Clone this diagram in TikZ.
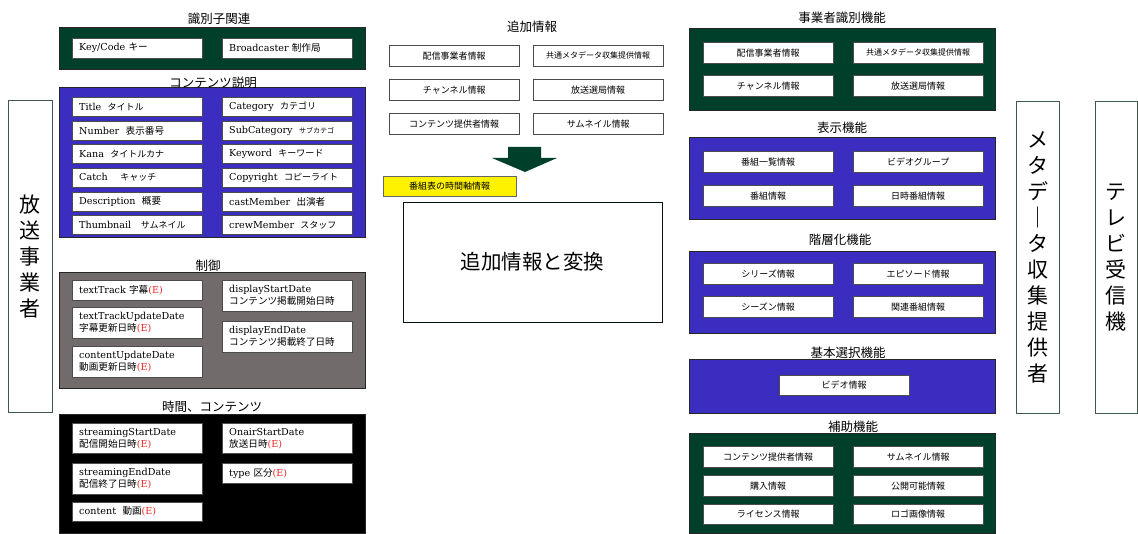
\documentclass[tikz,border=0pt]{standalone}
\usepackage{fontspec}
\setmainfont{Noto Sans CJK JP}
\newfontfamily\lat{DejaVu Serif}
\usepackage{tikz}
\definecolor{green1}{HTML}{00402B}
\definecolor{blue1}{HTML}{3A2DBF}
\definecolor{gray1}{HTML}{716B6B}
\definecolor{red1}{HTML}{F02828}
\definecolor{edge1}{HTML}{3F5A4C}
\newcommand{\ee}{{\lat\color{red1}(E)}}

\begin{document}
\begin{tikzpicture}[
    x=1pt, y=-1pt,
    panel/.style={draw=black!85, anchor=north west, inner sep=0pt,
                  minimum width=306pt},
    ttl/.style={font=\fontsize{12.5}{14}\selectfont, inner sep=0pt},
    lbox/.style={draw=black!70, fill=white, anchor=north west,
                 text width=116pt, inner xsep=7pt, inner ysep=0pt,
                 minimum height=19pt, align=left,
                 font=\fontsize{9.6}{12}\selectfont},
    rbox/.style={draw=black!70, fill=white, anchor=north west,
                 minimum width=130pt, minimum height=21pt, inner sep=0pt,
                 font=\fontsize{9}{11}\selectfont},
    side/.style={draw=edge1, anchor=north west, minimum height=312pt,
                 inner sep=0pt, align=center,
                 font=\fontsize{21}{26}\selectfont},
]
\useasboundingbox (0,0) rectangle (1138,534);

% Side columns
\node[side, minimum width=44pt] (bc) at (8,100) {放\\送\\事\\業\\者};
\node[side, minimum width=43pt] (meta) at (1016,101)
    {メ\\タ\\デ\\｜\\タ\\収\\集\\提\\供\\者};
\node[side, minimum width=42pt] (tv) at (1095,101) {テ\\レ\\ビ\\受\\信\\機};

% Identifier panel
\node[panel, fill=green1, minimum height=42pt] (idp) at (59,27) {};
\node[ttl] (idt) at (219,19) {識別子関連};
\node[lbox, minimum height=20pt] (key) at (72,38) {{\lat Key/Code} キー};
\node[lbox, minimum height=20pt] (bcst) at (222,38) {{\lat Broadcaster} 制作局};

% Content description panel
\node[panel, fill=blue1, minimum height=150pt] (cdp) at (59,87) {};
\node[ttl] (cdt) at (213,83) {コンテンツ説明};
\node[lbox] (title) at (72,97)  {{\lat Title}\ \ {\small タイトル}};
\node[lbox] (num)   at (72,121) {{\lat Number}\ \ 表示番号};
\node[lbox] (kana)  at (72,144) {{\lat Kana}\ \ {\small タイトルカナ}};
\node[lbox] (catch) at (72,168) {{\lat Catch}\quad\ {\small キャッチ}};
\node[lbox] (desc)  at (72,192) {{\lat Description}\ \ 概要};
\node[lbox] (thumb) at (72,215) {{\lat Thumbnail}\quad {\small サムネイル}};
\node[lbox] (cat)   at (222,97)  {{\lat Category}\ \ {\small カテゴリ}};
\node[lbox] (scat)  at (222,121) {{\lat SubCategory}\ \ {\fontsize{7}{9}\selectfont サブカテゴ}};
\node[lbox] (kw)    at (222,144) {{\lat Keyword}\ \ {\small キーワード}};
\node[lbox] (copy)  at (222,168) {{\lat Copyright}\ \ {\small コピーライト}};
\node[lbox] (cast)  at (222,192) {{\lat castMember}\ \ 出演者};
\node[lbox] (crew)  at (222,215) {{\lat crewMember}\ \ {\small スタッフ}};

% Control panel
\node[panel, fill=gray1, minimum height=116pt] (ctp) at (59,272) {};
\node[ttl] (ctt) at (208,266) {制御};
\node[lbox, minimum height=20pt] (tt) at (72,280) {{\lat textTrack} 字幕\ee};
\node[lbox, minimum height=31pt] (ttu) at (72,307)
    {{\lat textTrackUpdateDate}\\字幕更新日時\ee};
\node[lbox, minimum height=31pt] (cu) at (72,346)
    {{\lat contentUpdateDate}\\動画更新日時\ee};
\node[lbox, minimum height=31pt] (ds) at (222,280)
    {{\lat displayStartDate}\\コンテンツ掲載開始日時};
\node[lbox, minimum height=31pt] (de) at (222,321)
    {{\lat displayEndDate}\\コンテンツ掲載終了日時};

% Time panel
\node[panel, fill=black, minimum height=119pt] (tmp) at (59,414) {};
\node[ttl] (tmt) at (212,407) {時間、コンテンツ};
\node[lbox, minimum height=30pt] (ss) at (72,423)
    {{\lat streamingStartDate}\\配信開始日時\ee};
\node[lbox, minimum height=31pt] (se) at (72,463)
    {{\lat streamingEndDate}\\配信終了日時\ee};
\node[lbox] (cnt) at (72,502) {{\lat content}\ \ 動画\ee};
\node[lbox, minimum height=30pt] (oa) at (222,423)
    {{\lat OnairStartDate}\\放送日時\ee};
\node[lbox, minimum height=20pt] (typ) at (222,463) {{\lat type} 区分\ee};

% Additional info
\node[ttl] (addt) at (532,27) {追加情報};
\node[rbox] (a1) at (389,45)  {配信事業者情報};
\node[rbox] (a2) at (533,45)  {\fontsize{8}{9}\selectfont 共通メタデータ収集提供情報};
\node[rbox] (a3) at (389,79)  {チャンネル情報};
\node[rbox] (a4) at (533,79)  {放送選局情報};
\node[rbox] (a5) at (389,113) {コンテンツ提供者情報};
\node[rbox] (a6) at (533,113) {サムネイル情報};

% Down arrow
\fill[green1] (508,147) -- (541,147) -- (541,158) -- (557,158) -- (525,172)
    -- (492,158) -- (508,158) -- cycle;

\node[draw=black!60, fill=yellow, anchor=north west, minimum width=133pt,
      minimum height=20pt, inner sep=0pt, font=\fontsize{9}{11}\selectfont]
    (epg) at (383,176) {番組表の時間軸情報};
\node[draw=black!70!green1, fill=white, anchor=north west, minimum width=259pt,
      minimum height=120pt, inner sep=0pt, font=\fontsize{20.5}{24}\selectfont]
    (conv) at (403,202) {追加情報と変換};

% Operator identification
\node[panel, fill=green1, minimum height=82pt] (r1) at (689,28) {};
\node[ttl] (r1t) at (842,18) {事業者識別機能};
\node[rbox] (b1) at (703,42) {配信事業者情報};
\node[rbox] (b2) at (853,42) {\fontsize{8}{9}\selectfont 共通メタデータ収集提供情報};
\node[rbox] (b3) at (703,75) {チャンネル情報};
\node[rbox] (b4) at (853,75) {放送選局情報};

% Display
\node[panel, fill=blue1, minimum height=82pt] (r2) at (689,137) {};
\node[ttl] (r2t) at (842,128) {表示機能};
\node[rbox] (c1) at (703,151) {番組一覧情報};
\node[rbox] (c2) at (853,151) {ビデオグループ};
\node[rbox] (c3) at (703,185) {番組情報};
\node[rbox] (c4) at (853,185) {日時番組情報};

% Hierarchy
\node[panel, fill=blue1, minimum height=82pt] (r3) at (689,251) {};
\node[ttl] (r3t) at (840,240) {階層化機能};
\node[rbox] (d1) at (703,263) {シリーズ情報};
\node[rbox] (d2) at (853,263) {エピソード情報};
\node[rbox] (d3) at (703,296) {シーズン情報};
\node[rbox] (d4) at (853,296) {関連番組情報};

% Basic selection
\node[panel, fill=blue1, minimum height=54pt] (r4) at (689,359) {};
\node[ttl] (r4t) at (848,353) {基本選択機能};
\node[rbox, minimum height=20pt] (e1) at (779,375) {ビデオ情報};

% Support
\node[panel, fill=green1, minimum height=100pt] (r5) at (689,433) {};
\node[ttl] (r5t) at (853,427) {補助機能};
\node[rbox] (f1) at (703,446) {コンテンツ提供者情報};
\node[rbox] (f2) at (853,446) {サムネイル情報};
\node[rbox] (f3) at (703,475) {購入情報};
\node[rbox] (f4) at (853,475) {公開可能情報};
\node[rbox, minimum height=20pt] (f5) at (703,504) {ライセンス情報};
\node[rbox, minimum height=20pt] (f6) at (853,504) {ロゴ画像情報};
\end{tikzpicture}
\end{document}
